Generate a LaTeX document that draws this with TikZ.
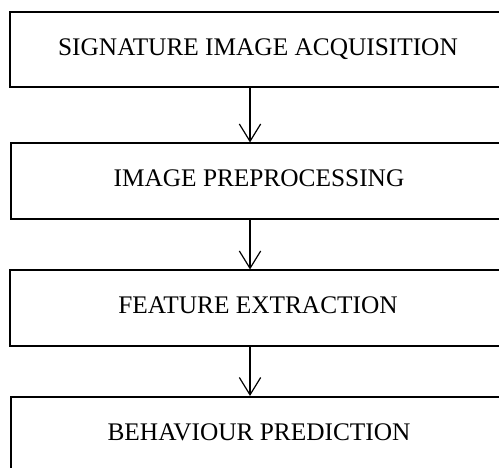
\documentclass[tikz,border=0pt]{standalone}
\usepackage{fontspec}
\setmainfont{Liberation Serif}
\usetikzlibrary{arrows.meta,positioning}

\begin{document}
\begin{tikzpicture}[
    x=0.75pt, y=-0.75pt,
    stage/.style={rectangle,draw=black,line width=1.3pt,
      minimum width=372pt,minimum height=56.5pt,inner sep=0pt,
      text height=12.6pt,text depth=4pt,
      font=\fontsize{19}{22}\selectfont},
    arrow/.style={-{Straight Barb[length=13pt,width=16pt,line width=0.9pt]},line width=0.9pt}
  ]
    \useasboundingbox (0,0) rectangle (499,467);

    \node[stage] (acq) at (258,49.5) {SIGNATURE IMAGE ACQUISITION};
    \node[stage] (pre) at (259,181) {IMAGE PREPROCESSING};
    \node[stage] (feat) at (258,308) {FEATURE EXTRACTION};
    \node[stage] (pred) at (259,434.5) {BEHAVIOUR PREDICTION};

    \draw[arrow] (acq.south -| 250,0) -- (pre.north -| 250,0);
    \draw[arrow] (pre.south -| 250,0) -- (feat.north -| 250,0);
    \draw[arrow] (feat.south -| 250,0) -- (pred.north -| 250,0);
  \end{tikzpicture}
\end{document}
